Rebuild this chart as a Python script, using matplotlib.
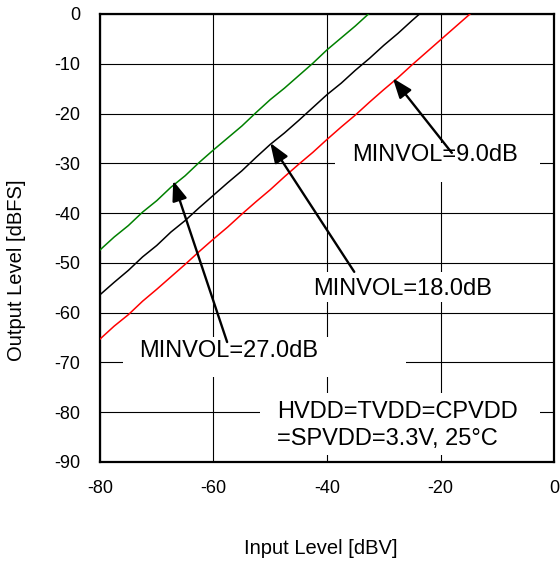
import matplotlib
matplotlib.use("Agg")
import matplotlib.pyplot as plt
from matplotlib.patches import Rectangle

plt.rcParams['font.family'] = ['Liberation Sans', 'DejaVu Sans']
plt.rcParams['axes.unicode_minus'] = False

# ---- data ----
x_green = [-80, -77.5, -75, -72.5, -70, -67.5, -65, -62.5, -60, -57.5, -55, -52.5,
           -50, -47.5, -45, -42.5, -40, -37.5, -35, -32.5, -30]
y_green = [-47.4, -44.8, -42.5, -39.8, -37.5, -34.8, -32.5, -29.8, -27.3, -24.9, -22.5, -19.8,
           -17.2, -14.9, -12.4, -9.9, -7.2, -4.8, -2.4, 0.2, 2.7]

x_black = [-80, -77.5, -75, -72.5, -70, -67.5, -65, -62.5, -60, -57.5, -55, -52.5,
           -50, -47.5, -45, -42.5, -40, -37.5, -35, -32.5, -30, -27.5, -25, -22.5]
y_black = [-56.4, -53.9, -51.5, -48.8, -46.5, -43.8, -41.5, -38.9, -36.4, -33.9, -31.5, -28.8,
           -26.2, -23.9, -21.4, -18.8, -16.2, -13.9, -11.3, -8.9, -6.3, -3.9, -1.3, 1.2]

x_red = [-80, -77.5, -75, -72.5, -70, -67.5, -65, -62.5, -60, -57.5, -55, -52.5,
         -50, -47.5, -45, -42.5, -40, -37.5, -35, -32.5, -30, -27.5, -25, -22.5,
         -20, -17.5, -15, -12.5]
y_red = [-65.3, -62.7, -60.4, -57.7, -55.3, -52.8, -50.3, -47.7, -45.2, -42.8, -40.2, -37.7,
         -35.3, -32.7, -30.2, -27.8, -25.2, -22.7, -20.3, -17.7, -15.2, -12.8, -10.2, -7.7,
         -5.2, -2.7, -0.2, 2.3]

x_ticks = [-80, -60, -40, -20, 0]
y_ticks = [0, -10, -20, -30, -40, -50, -60, -70, -80, -90]

labels = ["MINVOL=9.0dB", "MINVOL=18.0dB", "MINVOL=27.0dB"]
arrow_heads = [(-28.4, -12.9), (-50.0, -25.9), (-67.1, -33.5)]
arrow_tails = [(-18.0, -27.9), (-35.2, -51.8), (-57.6, -65.9)]
label_pos = [(-35.6, -28.4), (-42.5, -55.3), (-73.1, -67.8)]
label_boxes = [(-38.6, -33.7, 36.1, 7.8), (-43.9, -57.9, 35.3, 6.1), (-75.9, -72.9, 49.8, 8.0)]
cond_text = "HVDD=TVDD=CPVDD\n=SPVDD=3.3V, 25°C"
cond_pos = (-48.8, -82.6)
cond_box = (-51.8, -88.6, 49.3, 12.5)

# ---- figure ----
fig = plt.figure(figsize=(5.6, 5.63), dpi=100)
ax = fig.add_axes([100/560, 1-462/563, 454/560, 448/563])

ax.set_xlim(-80, 0)
ax.set_ylim(-90, 0)
ax.set_xticks(x_ticks)
ax.set_yticks(y_ticks)
ax.set_axisbelow(True)
ax.grid(True, color='black', linewidth=0.8)
ax.tick_params(length=0, labelsize=13)
ax.tick_params(axis='y', pad=14)
ax.tick_params(axis='x', pad=13)
for s in ax.spines.values():
    s.set_linewidth(1.6)
    s.set_color('black')

# white boxes behind labels
for (bx, by, bw, bh) in label_boxes + [cond_box]:
    ax.add_patch(Rectangle((bx, by), bw, bh, facecolor='white', edgecolor='none', zorder=1.5))

ax.plot(x_green, y_green, color='#008000', lw=1.1, zorder=3)
ax.plot(x_black, y_black, color='black', lw=1.1, zorder=3)
ax.plot(x_red, y_red, color='#ff0000', lw=1.1, zorder=3)

for lab, head, tail, pos in zip(labels, arrow_heads, arrow_tails, label_pos):
    ax.annotate('', xy=head, xytext=tail,
                arrowprops=dict(arrowstyle='-|>,head_length=0.8,head_width=0.3',
                                mutation_scale=15, lw=1.7, color='black',
                                shrinkA=0, shrinkB=0), zorder=4)
    ax.text(pos[0], pos[1], lab, fontsize=17, ha='left', va='center', zorder=5)

ax.text(cond_pos[0], cond_pos[1], cond_text, fontsize=17, ha='left', va='center',
        linespacing=1.3, zorder=5)

fig.text(16.5/560, 1-270/563, "Output Level [dBFS]", rotation=90, ha='center', va='center',
         fontsize=14.5)
fig.text(321/560, 1-548/563, "Input Level [dBV]", ha='center', va='center', fontsize=14.5)

fig.savefig("out.png", dpi=100)
